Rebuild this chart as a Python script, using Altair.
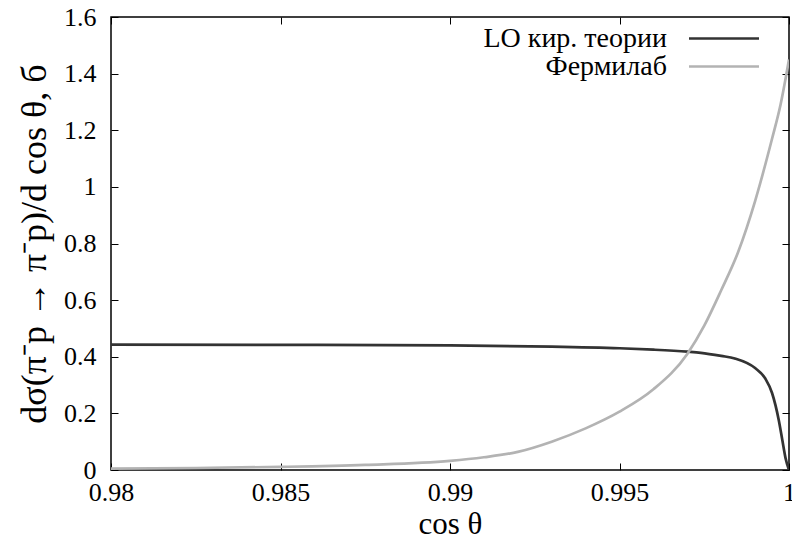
import altair as alt
import pandas as pd

# ---- data ----
series_names = ["LO кир. теории", "Фермилаб"]

cos_lo = [0.980, 0.985, 0.990, 0.993, 0.995, 0.996, 0.997, 0.9974, 0.998,
          0.9984, 0.999, 0.9993, 0.9995, 0.9997, 0.9998, 0.9999, 1.0]
sig_lo = [0.443, 0.442, 0.440, 0.436, 0.430, 0.425, 0.418, 0.414, 0.403,
          0.394, 0.360, 0.323, 0.272, 0.175, 0.108, 0.041, 0.0]

cos_fnal = [0.980, 0.9825, 0.985, 0.9875, 0.990, 0.991, 0.992, 0.993, 0.994,
            0.995, 0.996, 0.997, 0.9975, 0.998, 0.9985, 0.999, 0.9995, 0.99975, 1.0]
sig_fnal = [0.005, 0.007, 0.011, 0.018, 0.032, 0.045, 0.064, 0.100, 0.147,
            0.206, 0.285, 0.410, 0.510, 0.635, 0.770, 0.950, 1.170, 1.290, 1.450]

x_ticks = [0.98, 0.985, 0.99, 0.995, 1.0]
y_ticks = [0, 0.2, 0.4, 0.6, 0.8, 1.0, 1.2, 1.4, 1.6]

df = pd.concat([
    pd.DataFrame({"cos": cos_lo, "sig": sig_lo, "series": series_names[0]}),
    pd.DataFrame({"cos": cos_fnal, "sig": sig_fnal, "series": series_names[1]}),
], ignore_index=True)

W, H = 678, 453
FONT = "Liberation Serif"
TICK = 7

x_scale = alt.Scale(domain=[0.98, 1.0], nice=False, zero=False)
y_scale = alt.Scale(domain=[0, 1.6], nice=False, zero=False)

common_axis = dict(domain=False, grid=False, tickSize=TICK, offset=-TICK,
                   tickColor="black", tickWidth=1)

lines = alt.Chart(df).mark_line(strokeWidth=2.7, interpolate="monotone", clip=True).encode(
    x=alt.X("cos:Q", scale=x_scale,
            axis=alt.Axis(orient="bottom", values=x_ticks, format="~g",
                          title="cos θ", labelFont=FONT, labelFontSize=26,
                          labelColor="black", labelPadding=9,
                          titleFont=FONT, titleFontSize=31, titleFontWeight="normal",
                          titleColor="black", titlePadding=4,
                          labelFlush=False, labelOverlap=False, **common_axis)),
    y=alt.Y("sig:Q", scale=y_scale,
            axis=alt.Axis(orient="left", values=y_ticks, format="~g",
                          title="dσ(π⁻p  →  π⁻p)/d cos θ,  б",
                          labelFont=FONT, labelFontSize=26, labelColor="black",
                          labelPadding=15, titleFont=FONT, titleFontSize=36,
                          titleFontWeight="normal", titleColor="black",
                          titlePadding=10, labelFlush=False, labelOverlap=False,
                          **common_axis)),
    color=alt.Color("series:N",
                    scale=alt.Scale(domain=series_names, range=["#333333", "#b3b3b3"]),
                    legend=alt.Legend(orient="none", legendX=360, legendY=7.5,
                                      title=None, symbolType="M-5,0H5",
                                      symbolSize=196, symbolStrokeWidth=2.7,
                                      symbolOffset=239, labelAlign="right",
                                      labelOffset={"expr": "-71"}, labelFont=FONT,
                                      labelFontSize=28, labelColor="black",
                                      labelLimit=400,
                                      rowPadding=0, padding=0)),
)

mirror = alt.Chart(df).mark_line(opacity=0).encode(
    x=alt.X("cos:Q", scale=x_scale,
            axis=alt.Axis(orient="top", values=x_ticks, labels=False, title="",
                          **common_axis)),
    y=alt.Y("sig:Q", scale=y_scale,
            axis=alt.Axis(orient="right", values=y_ticks, labels=False, title="",
                          **common_axis)),
    detail="series:N",
)

chart = (
    alt.layer(lines, mirror)
    .resolve_axis(x="independent", y="independent")
    .properties(width=W, height=H,
                padding={"left": 111, "top": 17, "right": 3, "bottom": 72},
                autosize=alt.AutoSizeParams(type="none"),
                background="white")
    .configure_view(stroke="black", strokeWidth=1.5)
)

chart.save("out.html", embed_options={"renderer": "svg", "actions": False})
